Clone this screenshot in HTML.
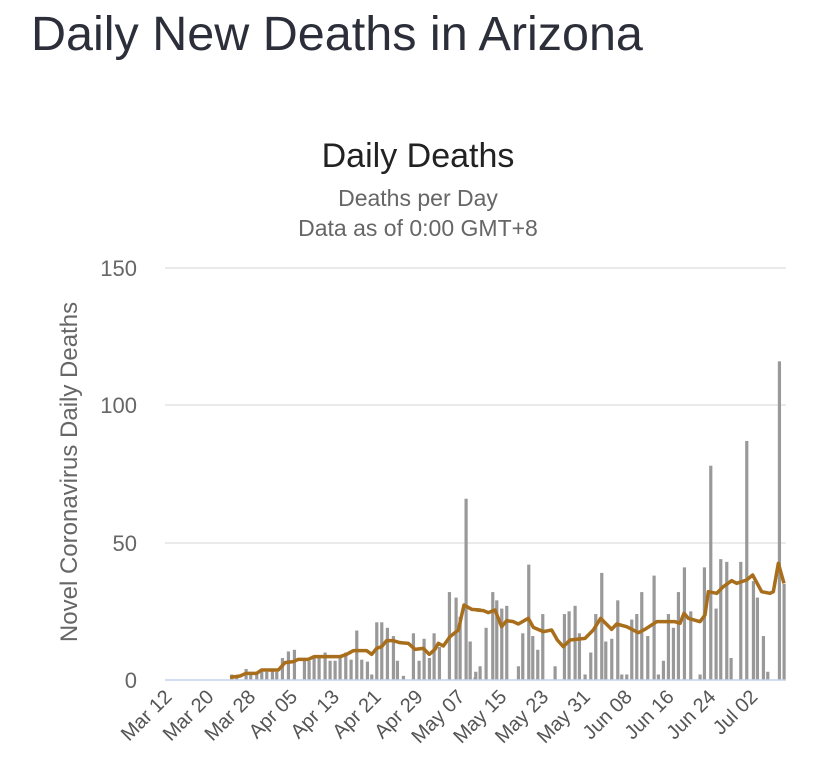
<!DOCTYPE html>
<html><head><meta charset="utf-8"><style>
body{margin:0;background:#fff;width:836px;height:768px;overflow:hidden;font-family:"Liberation Sans",Arial,sans-serif}
</style></head><body>
<svg id="s" width="836" height="768" xmlns="http://www.w3.org/2000/svg" font-family="Liberation Sans, Arial, sans-serif">
<text x="31" y="50" font-size="48.5" fill="#2c2f3a">Daily New Deaths in Arizona</text>
<text x="418" y="167" font-size="34" fill="#222" text-anchor="middle">Daily Deaths</text>
<text x="418" y="206" font-size="23" fill="#666" text-anchor="middle">Deaths per Day</text>
<text x="418" y="236" font-size="23" fill="#666" text-anchor="middle">Data as of 0:00 GMT+8</text>
<g stroke="#e3e3e3" stroke-width="1.5">
<line x1="165" y1="268" x2="786" y2="268"/><line x1="165" y1="405" x2="786" y2="405"/><line x1="165" y1="543" x2="786" y2="543"/>
</g>
<g font-size="22" fill="#666" text-anchor="end">
<text x="137" y="276">150</text><text x="137" y="413">100</text><text x="137" y="551">50</text><text x="137" y="688">0</text>
</g>
<text transform="translate(77,472) rotate(-90)" font-size="24" fill="#666" text-anchor="middle">Novel Coronavirus Daily Deaths</text>
<g id="bars" fill="#999"></g>
<line x1="165" y1="680" x2="786" y2="680" stroke="#c4d2ea" stroke-width="1.5"/>
<polyline id="ln" fill="none" stroke="#a86e1c" stroke-width="3.5" stroke-linejoin="round"/>
<g id="xl" font-size="20" fill="#555" text-anchor="end"></g>
</svg>
<script>
var ns="http://www.w3.org/2000/svg";
var b1=[[215,2],[230,1],[258,4],[272,2],[290,2],[305,3],[320,3],[337,4],[350,3],[367,8],[385,10.4],[403,11],[433,7],[447,7],[462,8],[477,8],[495,10],[510,7],[525,7],[540,8],[557,10],[573,7.4],[590,18],[605,7.4],[622,6.7],[635,2],[650,21],[665,21],[682,19],[700,16],[712,7],[730,1.5],[760,17],[777,7],[792,15],[808,8],[822,17],[838,12],[868,32],[888,30],[900,23],[918,66],[930,14],[947,3]];
var b2=[[0,14],[15,1],[30,5],[48,19],[68,32],[80,29],[95,26],[110,27],[145,5],[158,17],[176,42],[188,16],[203,11],[218,24],[255,5],[283,24],[297,25],[315,27],[328,17],[345,2],[362,10],[377,24],[395,39],[407,14],[425,15],[443,29],[455,2],[470,2],[485,22],[500,24],[515,32],[533,16],[552,38],[565,2],[580,7],[595,24],[610,19],[625,32],[643,41],[662,25],[690,2],[703,41],[722,78],[738,26],[752,44],[770,43],[783,8],[812,43],[830,87],[850,36],[862,30],[880,16],[893,3],[928,116],[942,35]];
var g=document.getElementById("bars");
function bar(x,v){var r=document.createElementNS(ns,"rect");var h=v*2.747;r.setAttribute("x",x-1.5);r.setAttribute("y",680-h);r.setAttribute("width",3.2);r.setAttribute("height",h);g.appendChild(r);}
b1.forEach(function(p){bar(160+p[0]/3,p[1]);});
b2.forEach(function(p){bar(470+p[0]/3,p[1]);});
var l1=[[210,352],[240,348],[258,340],[290,340],[305,330],[355,330],[375,308],[400,305],[415,298],[445,298],[462,290],[540,290],[560,283],[580,272],[620,272],[635,283],[650,265],[665,260],[680,242],[700,242],[720,248],[745,250],[765,268],[790,265],[808,283],[825,268],[835,250],[850,258],[870,230],[895,210],[912,135],[935,148],[960,150]];
var l2=[[20,570],[40,572],[55,578],[75,570],[95,620],[110,602],[130,605],[145,612],[175,595],[190,622],[220,635],[245,630],[262,660],[280,680],[300,660],[345,655],[370,630],[392,595],[425,628],[440,612],[470,620],[505,638],[525,628],[560,605],[615,605],[630,610],[642,580],[655,595],[690,605],[705,585],[715,515],[740,520],[760,500],[785,482],[800,490],[830,480],[848,465],[875,515],[900,520],[910,515],[925,430],[942,490]];
var pts=l1.map(function(p){return (160+p[0]/3)+","+(560+p[1]/3);}).concat(l2.map(function(p){return (470+p[0]/3)+","+(420+p[1]/3);}));
document.getElementById("ln").setAttribute("points",pts.join(" "));
var labs=["Mar 12","Mar 20","Mar 28","Apr 05","Apr 13","Apr 21","Apr 29","May 07","May 15","May 23","May 31","Jun 08","Jun 16","Jun 24","Jul 02"];
var xl=document.getElementById("xl");
labs.forEach(function(t,i){var x=169+i*8*5.23+4;var e=document.createElementNS(ns,"text");e.setAttribute("transform","translate("+x+",698) rotate(-45)");e.textContent=t;xl.appendChild(e);});
</script>
</body></html>
